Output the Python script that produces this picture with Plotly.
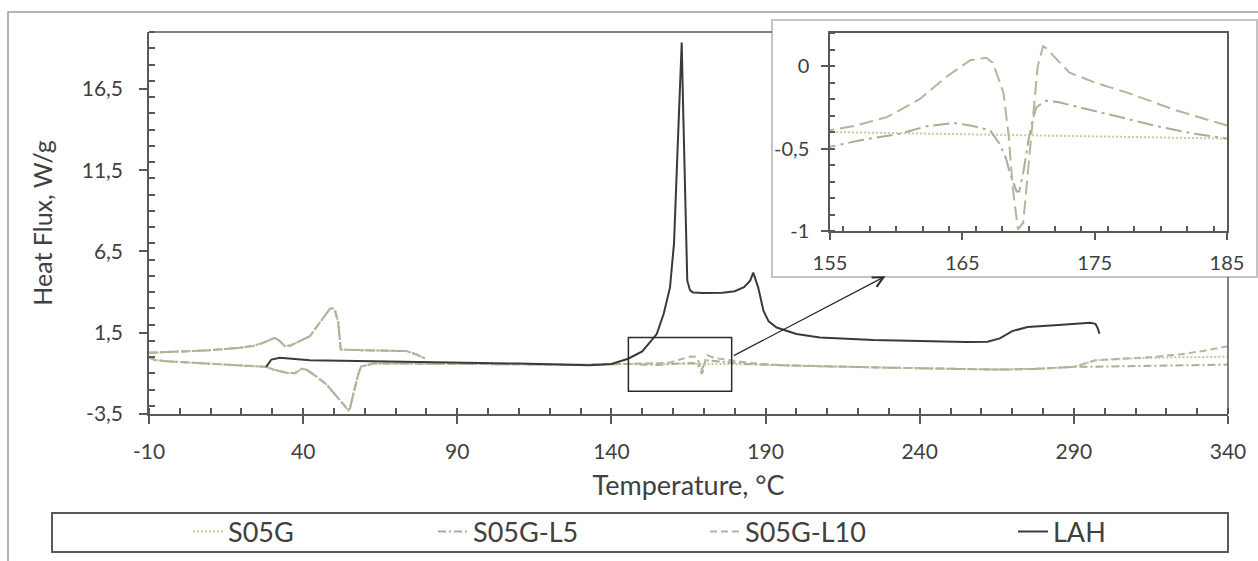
import plotly.graph_objects as go

# ---------------- data ----------------
# shared part of the heating curve (all three S05G samples overlap here)
base_low_T = [-10, -8, -4, 0, 8, 19, 28, 30.3, 32.5, 34.6, 37.3, 39.5, 41.1, 44, 47.6,
              50, 51.9, 53.5, 54.6, 55.2, 56, 56.8, 57.8, 58.8, 62.7, 75, 90, 110, 130, 145]
base_low_Q = [-0.02, -0.18, -0.26, -0.3, -0.38, -0.52, -0.6, -0.76, -0.88, -0.97, -0.99, -0.72,
              -0.78, -1.15, -1.69, -2.2, -2.62, -3.0, -3.28, -3.15, -2.5, -1.79, -1.1, -0.58,
              -0.4, -0.4, -0.42, -0.45, -0.47, -0.42]
mid_low_T = [195, 210, 230, 250, 266, 278, 290]
mid_low_Q = [-0.5, -0.58, -0.65, -0.72, -0.77, -0.72, -0.6]

# shared cooling curve (upper branch, ends at ~80 °C)
cool_T = [-10, 0, 8.6, 19.4, 24, 27, 29.5, 30.8, 32.4, 34, 36, 37.8, 40, 42.2, 45.4, 47.5,
          48.7, 49.5, 50.3, 51.4, 52.2, 53, 62.7, 73.5, 76.8, 79.5]
cool_Q = [0.27, 0.35, 0.41, 0.57, 0.7, 0.88, 1.08, 1.19, 0.99, 0.68, 0.72, 0.88, 1.05, 1.29,
          2.12, 2.7, 2.98, 3.0, 2.9, 2.12, 0.47, 0.45, 0.43, 0.37, 0.16, -0.08]

# series-specific parts: 150-185 °C (inset region) and the high-temperature tail
s05g_zoom_T = [150, 155, 162, 170, 178, 185]
s05g_zoom_Q = [-0.4, -0.4, -0.41, -0.42, -0.43, -0.44]
s05g_tail_T = [297, 305, 320, 340]
s05g_tail_Q = [-0.2, -0.1, -0.02, 0.02]

l5_zoom_T = [150, 155, 157.3, 160.3, 162.3, 164.3, 165.6, 167.1, 167.8, 168.3, 168.6, 169.1,
             169.3, 169.6, 170.0, 170.3, 170.6, 171.3, 172.3, 174.9, 177.5, 180, 182.5, 185]
l5_zoom_Q = [-0.47, -0.49, -0.45, -0.41, -0.365, -0.345, -0.36, -0.39, -0.47, -0.56, -0.65,
             -0.76, -0.76, -0.65, -0.45, -0.33, -0.25, -0.21, -0.22, -0.27, -0.32, -0.37,
             -0.41, -0.44]
l5_tail_T = [300, 320, 340]
l5_tail_Q = [-0.58, -0.52, -0.46]

l10_zoom_T = [150, 155, 157, 159.3, 161.8, 163.8, 165.6, 166.8, 167.3, 168.1, 168.5, 168.8,
              169.2, 169.6, 170.0, 170.2, 170.7, 171.1, 171.5, 171.9, 173.1, 175, 177.4,
              181.2, 185]
l10_zoom_Q = [-0.4, -0.39, -0.36, -0.31, -0.2, -0.065, 0.035, 0.05, 0.02, -0.16, -0.42, -0.73,
              -0.99, -0.95, -0.6, -0.41, 0.0, 0.12, 0.1, 0.06, -0.04, -0.1, -0.16, -0.27, -0.36]
l10_tail_T = [297, 305, 315, 325, 332, 340]
l10_tail_Q = [-0.2, -0.1, 0.0, 0.18, 0.38, 0.67]

lah_T = [28, 28.8, 29.7, 32.4, 42.2, 62.7, 84.4, 110, 133, 140, 145.4, 150, 154.7, 157, 159,
         160.3, 161.4, 162.2, 162.8, 163.3, 163.9, 164.6, 165.5, 166.5, 170, 176, 180, 183,
         185, 186, 187.6, 189.3, 191, 193.6, 200, 207.6, 225, 240, 255, 262, 266, 270, 275,
         285, 295.3, 297, 297.8, 298.3]
lah_Q = [-0.6, -0.35, -0.15, -0.04, -0.19, -0.25, -0.31, -0.4, -0.5, -0.42, -0.1, 0.35, 1.42,
         2.7, 4.29, 7.0, 12.5, 17.0, 19.35, 15.0, 10.4, 4.7, 4.1, 3.98, 3.95, 3.96, 4.05, 4.3,
         4.7, 5.2, 4.29, 2.85, 2.2, 1.82, 1.42, 1.2, 1.05, 0.97, 0.93, 0.95, 1.15, 1.6, 1.85,
         1.98, 2.11, 2.05, 1.75, 1.44]

series_names = ["S05G", "S05G-L5", "S05G-L10", "LAH"]

# tick labels as printed in the reference (hyphen minus, comma decimals)
x_tick_text = ["-10", "40", "90", "140", "190", "240", "290", "340"]
y_tick_text = ["-3,5", "1,5", "6,5", "11,5", "16,5"]
inset_x_text = ["155", "165", "175", "185"]
inset_y_text = ["-1", "-0,5", "0"]

# ---------------- build series ----------------
def full(zoom_T, zoom_Q, tail_T, tail_Q):
    T = base_low_T + zoom_T + mid_low_T + tail_T + [None] + cool_T
    Q = base_low_Q + zoom_Q + mid_low_Q + tail_Q + [None] + cool_Q
    return T, Q

s05g_T, s05g_Q = full(s05g_zoom_T, s05g_zoom_Q, s05g_tail_T, s05g_tail_Q)
l5_T, l5_Q = full(l5_zoom_T, l5_zoom_Q, l5_tail_T, l5_tail_Q)
l10_T, l10_Q = full(l10_zoom_T, l10_zoom_Q, l10_tail_T, l10_tail_Q)


def alias(labels):
    # plotly prints negatives with U+2212; map them back to the hyphen used in the reference
    return {t.replace("-", "\u2212"): t for t in labels if t.startswith("-")}


# ---------------- layout geometry (pixels) ----------------
W, H = 1258, 561
PL, PR, PT, PB = 149, 1228, 32, 414


def fx(px):
    return (px - PL) / (PR - PL)


def fy(py):
    return (PB - py) / (PB - PT)


FONT = "Lato"
TXT = "#404040"
AX = "#595959"

styles = [
    dict(color="#c3ca98", dash="2px,2px", inset_dash="2px,2px"),
    dict(color="#aeac95", dash="8px,3px,2px,3px", inset_dash="16px,5px,3px,5px"),
    dict(color="#b8b39d", dash="7px,4px", inset_dash="14px,6px"),
    dict(color="#3a3a3a", dash="solid", inset_dash="solid"),
]
data = [(s05g_T, s05g_Q), (l5_T, l5_Q), (l10_T, l10_Q), (lah_T, lah_Q)]
legend_ids = ["legend", "legend2", "legend3", "legend4"]

fig = go.Figure()
for i, ((T, Q), name, st) in enumerate(zip(data, series_names, styles)):
    fig.add_trace(go.Scatter(
        x=T, y=Q, mode="lines", name=name, legend=legend_ids[i],
        line=dict(color=st["color"], width=2, dash=st["dash"]),
        xaxis="x", yaxis="y", hoverinfo="skip"))
for (T, Q), name, st in zip(data[:3], series_names[:3], styles[:3]):
    fig.add_trace(go.Scatter(
        x=T, y=Q, mode="lines", name=name, showlegend=False,
        line=dict(color=st["color"], width=2, dash=st["inset_dash"]),
        xaxis="x2", yaxis="y2", hoverinfo="skip"))

tickfont = dict(family=FONT, size=21, color=TXT)
fig.update_layout(
    width=W, height=H,
    separators=",.",
    margin=dict(l=PL, r=W - PR, t=PT, b=H - PB, autoexpand=False),
    paper_bgcolor="white", plot_bgcolor="rgba(0,0,0,0)",
    font=dict(family=FONT, color=TXT),
    xaxis=dict(range=[-10, 340], tickmode="linear", tick0=-10, dtick=50,
               labelalias=alias(x_tick_text),
               ticks="outside", ticklen=8, tickwidth=1.5, tickcolor=AX, ticklabelstandoff=10,
               showline=True, linecolor=AX, linewidth=1.5, showgrid=False, zeroline=False,
               minor=dict(dtick=10, ticks="inside", ticklen=6, tickcolor=AX),
               tickfont=tickfont, automargin=False,
               title=dict(text="Temperature, °C", font=dict(family=FONT, size=27, color=TXT),
                          standoff=14)),
    yaxis=dict(range=[-3.5, 20], tickmode="linear", tick0=-3.5, dtick=5, tickformat=".1f",
               labelalias=alias(y_tick_text),
               ticks="outside", ticklen=8, tickwidth=1.5, tickcolor=AX, ticklabelstandoff=12,
               showline=True, linecolor=AX, linewidth=1.5, showgrid=False, zeroline=False,
               minor=dict(dtick=1, ticks="inside", ticklen=6, tickcolor=AX),
               tickfont=tickfont, automargin=False,
               title=dict(text="Heat Flux, W/g", font=dict(family=FONT, size=25, color=TXT),
                          standoff=22)),
    xaxis2=dict(domain=[fx(830), fx(1227)], anchor="y2", range=[155, 185], tickmode="linear",
                tick0=155, dtick=10, ticks="outside", ticklen=7,
                tickwidth=1.5, tickcolor=AX, ticklabelstandoff=6,
                showline=True, mirror=True, linecolor=AX, linewidth=1.5, showgrid=False,
                zeroline=False, minor=dict(dtick=2, ticks="inside", ticklen=5, tickcolor=AX),
                tickfont=dict(family=FONT, size=20, color=TXT), automargin=False),
    yaxis2=dict(domain=[fy(231), fy(33)], anchor="x2", range=[-1, 0.2], tickmode="linear",
                tick0=0, dtick=0.5, labelalias=alias(inset_y_text),
                ticks="outside", ticklen=7,
                tickwidth=1.5, tickcolor=AX, ticklabelstandoff=8,
                showline=True, mirror=True, linecolor=AX, linewidth=1.5, showgrid=False,
                zeroline=False, minor=dict(dtick=0.1, ticks="inside", ticklen=5, tickcolor=AX),
                tickfont=dict(family=FONT, size=20, color=TXT), automargin=False),
)

legend_text_start = [233, 478, 750, 1058]
for lid, tx in zip(legend_ids, legend_text_start):
    fig.update_layout({lid: dict(x=fx(tx - 45), y=fy(532), xanchor="left", yanchor="middle",
                                 orientation="h", bgcolor="rgba(0,0,0,0)", borderwidth=0,
                                 font=dict(family=FONT, size=27, color=TXT))})

shapes = [
    # outer chart border (only left/top edges fall inside the image)
    dict(type="rect", xref="paper", yref="paper", x0=fx(8), x1=fx(1275), y0=fy(580), y1=fy(12),
         line=dict(color="#9a9a9a", width=1.5), fillcolor="rgba(0,0,0,0)", layer="below"),
    # legend frame
    dict(type="rect", xref="paper", yref="paper", x0=fx(52), x1=fx(1228), y0=fy(552), y1=fy(513),
         line=dict(color=AX, width=2), fillcolor="rgba(0,0,0,0)", layer="below"),
    # inset panel
    dict(type="rect", xref="paper", yref="paper", x0=fx(772), x1=fx(1257), y0=fy(277), y1=fy(20),
         line=dict(color="#c4c4c4", width=2), fillcolor="white", layer="below"),
    # main plot frame (top / right parts not hidden by the inset)
    dict(type="line", xref="paper", yref="paper", x0=0, x1=fx(772), y0=1, y1=1,
         line=dict(color=AX, width=1.5)),
    dict(type="line", xref="paper", yref="paper", x0=1, x1=1, y0=0, y1=fy(277),
         line=dict(color=AX, width=1.5)),
    # zoom rectangle
    dict(type="rect", xref="x", yref="y", x0=145.5, x1=179, y0=-2.1, y1=1.2,
         line=dict(color="#2b2b2b", width=1.5), fillcolor="rgba(0,0,0,0)"),
]
fig.update_layout(shapes=shapes)

fig.add_annotation(x=228.9, y=4.98, ax=179.2, ay=0.04, xref="x", yref="y", axref="x", ayref="y",
                   text="", showarrow=True, arrowhead=5, arrowsize=1.6, arrowwidth=1.3,
                   arrowcolor="#2b2b2b")

fig.write_html("out.html")
